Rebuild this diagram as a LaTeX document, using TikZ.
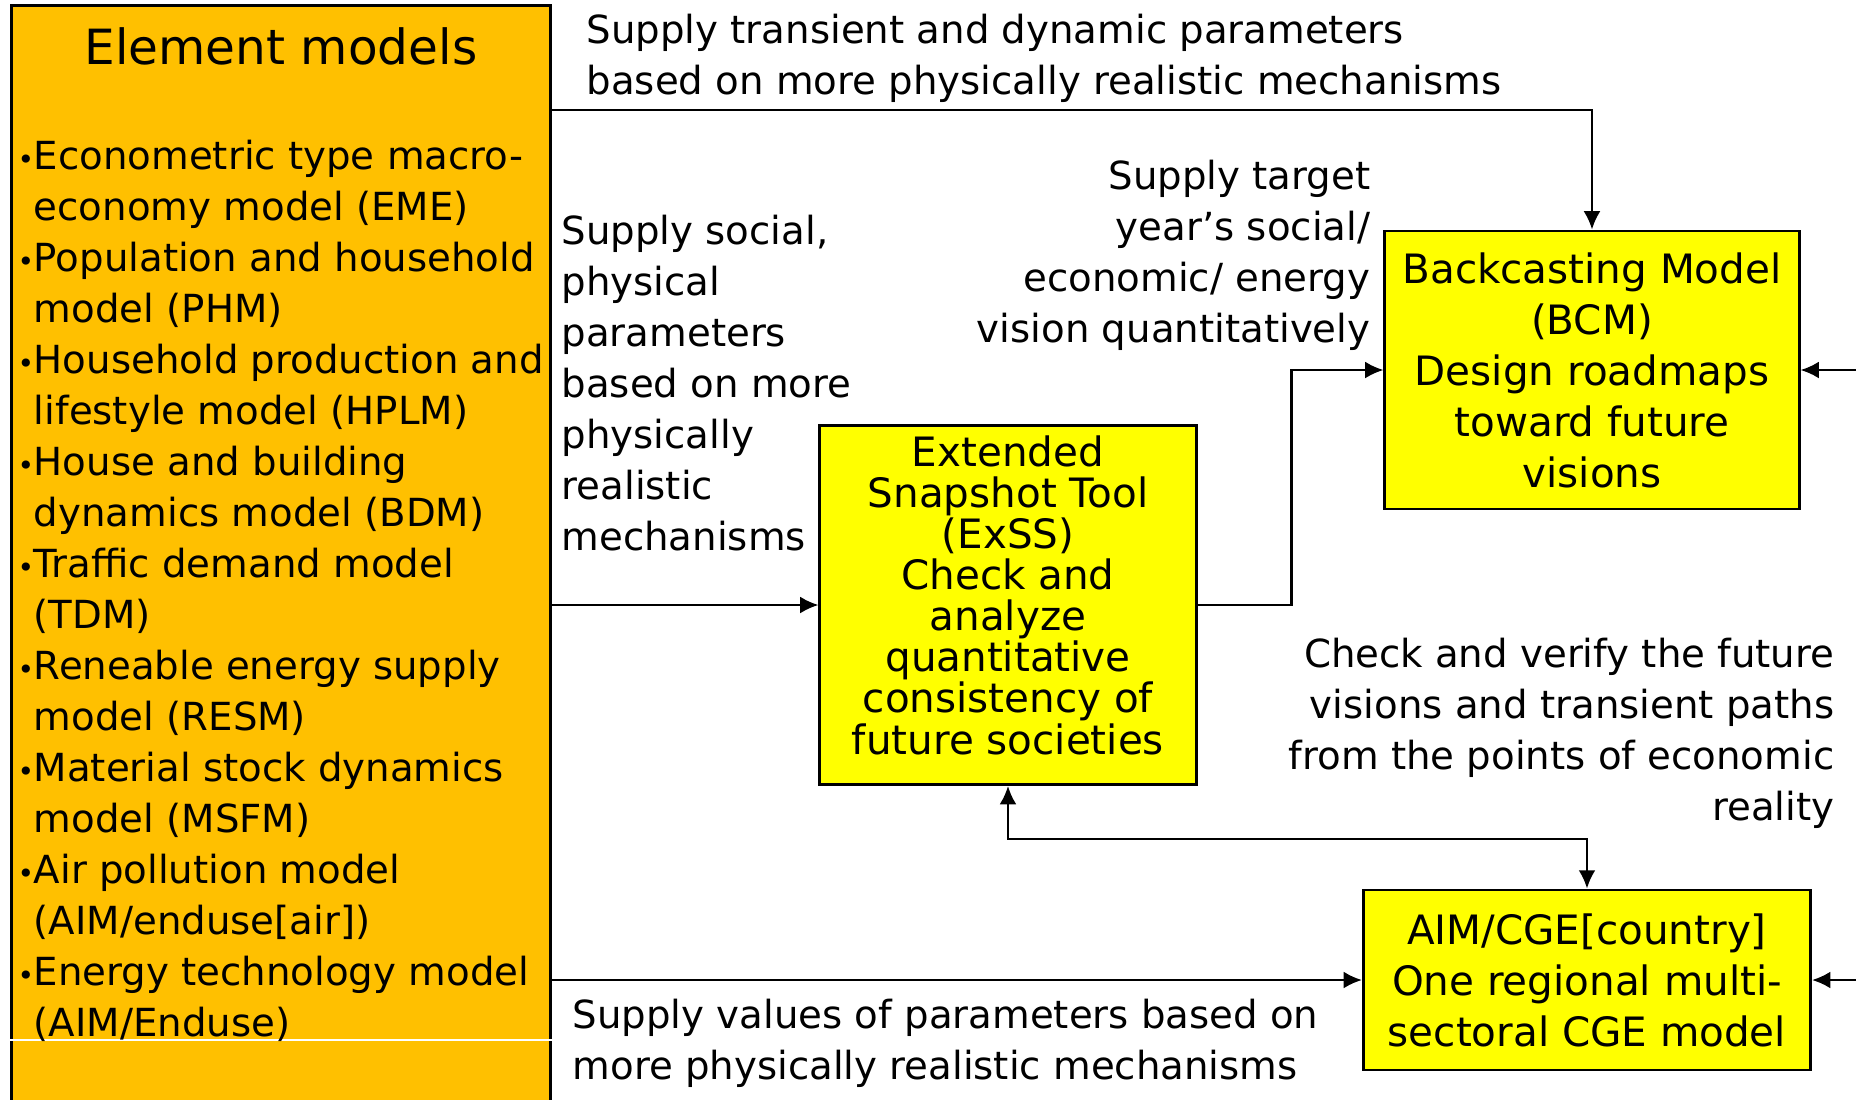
\documentclass[tikz,border=0pt]{standalone}
\usepackage{fontspec}
\setmainfont{DejaVu Sans}
\usetikzlibrary{positioning,arrows.meta,calc}
\definecolor{modelorange}{HTML}{FFC000}
\definecolor{toolyellow}{HTML}{FFFF00}
\newcommand{\mdot}{\makebox[4.6pt][l]{\footnotesize•}}
\newcommand{\mgap}{\hspace*{4.6pt}}
\tikzset{
    >={Latex[length=5.2pt,width=4.8pt]},
    block/.style = {
        draw,
        shape=rectangle,
        fill=toolyellow,
        line width=0.8pt,
        align=center,
        inner sep=0pt,
        font=\fontsize{11.5}{14.5}\selectfont
    },
    models/.style = {
        draw,
        shape=rectangle,
        fill=modelorange,
        line width=0.8pt,
        inner sep=0pt
    },
    empty/.style = {
        shape=rectangle,
        inner sep=0pt
    },
    link/.style = {
        draw,
        line width=0.7pt
    },
}

\begin{document}
\begin{tikzpicture}[x=0.01cm, y=-0.01cm, font=\fontsize{11}{14.5}\selectfont]
    \clip (0,0) rectangle (1856,1099);

    % boxes
    \node[models, minimum width=5.38cm, minimum height=11.04cm] (models) at (281,558) {};
    \node[block, minimum width=4.14cm, minimum height=2.78cm] (bcm) at (1592,370)
        {Backcasting Model\\(BCM)\\Design roadmaps\\toward future\\visions};
    \node[block, minimum width=3.76cm, minimum height=3.59cm] (exss) at (1008,605) {};
    \node[empty, align=center, font=\fontsize{11.5}{11.7}\selectfont] (exsstext) at (1008,595)
        {Extended\\Snapshot Tool\\(ExSS)\\Check and\\analyze\\quantitative\\consistency of\\future societies};
    \node[block, minimum width=4.47cm, minimum height=1.80cm] (cge) at (1587,980)
        {AIM/CGE[country]\\One regional multi-\\sectoral CGE model};

    \draw[white, line width=0.4pt] (models.west |- 0,1040) -- (models.east |- 0,1040);

    % texts in the models box
    \node[empty, font=\fontsize{13.8}{17}\selectfont] (title) at (281,46) {Element models};
    \node[empty, anchor=west, align=left] (list) at (17,591) {%
        \mdot Econometric type macro-\\ \mgap economy model (EME)\\
        \mdot Population and household\\ \mgap model (PHM)\\
        \mdot Household production and\\ \mgap lifestyle model (HPLM)\\
        \mdot House and building\\ \mgap dynamics model (BDM)\\
        \mdot Traffic demand model\\ \mgap (TDM)\\
        \mdot Reneable energy supply\\ \mgap model (RESM)\\
        \mdot Material stock dynamics\\ \mgap model (MSFM)\\
        \mdot Air pollution model\\ \mgap (AIM/enduse[air])\\
        \mdot Energy technology model\\ \mgap (AIM/Enduse)};

    % labels
    \node[empty, anchor=west, align=left] (transient) at (586,58)
        {Supply transient and dynamic parameters\\based on more physically realistic mechanisms};
    \node[empty, anchor=east, align=right] (target) at (1371,255)
        {Supply target\\year’s social/\\economic/ energy\\vision quantitatively};
    \node[empty, anchor=west, align=left] (social) at (561,383)
        {Supply social,\\physical\\parameters\\based on more\\physically\\realistic\\mechanisms};
    \node[empty, anchor=east, align=right] (verify) at (1835,733)
        {Check and verify the future\\visions and transient paths\\from the points of economic\\reality};
    \node[empty, anchor=west, align=left] (values) at (572,1043)
        {Supply values of parameters based on\\more physically realistic mechanisms};

    \coordinate (toprow) at (0,110);
    \coordinate (edgebcm) at (1856,370);
    \coordinate (edgecge) at (1856,980);

    % connectors
    \path[link, ->] (models.east |- toprow) -| (bcm.north);
    \path[link, ->] (models.east |- exss.west) -- (exss.west);
    \path[link, ->] (exss.east) -- ++(94,0) |- (bcm.west);
    \path[link, <->] (exss.south) -- ++(0,53) -| (cge.north);
    \path[link, ->] (models.east |- cge.west) -- (cge.west);
    \path[link, ->] (edgebcm) -- (bcm.east);
    \path[link, ->] (edgecge) -- (cge.east);
\end{tikzpicture}
\end{document}
